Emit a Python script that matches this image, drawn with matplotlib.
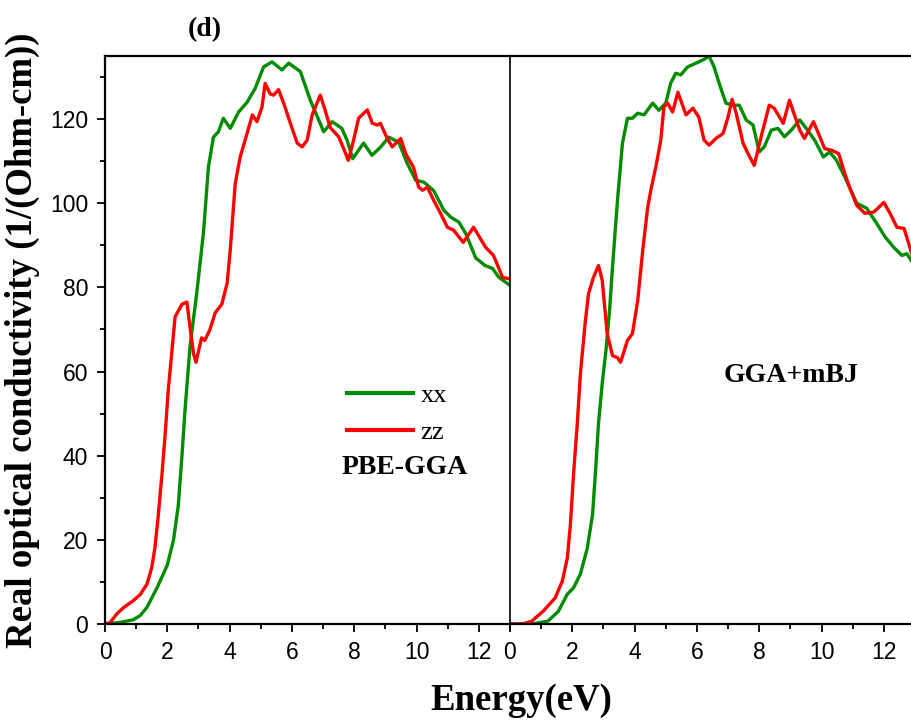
import numpy as np
import matplotlib.pyplot as plt
from matplotlib.ticker import MultipleLocator

# PBE-GGA panel
pbe_xx_e = [0, 0.5, 0.9, 1.13, 1.35, 1.67, 2.0, 2.2, 2.35, 2.47, 2.57, 2.73, 2.95, 3.16, 3.32,
            3.48, 3.64, 3.8, 4.02, 4.29, 4.56, 4.82, 5.09, 5.36, 5.68, 5.9, 6.27, 6.59, 7.02,
            7.29, 7.6, 7.77, 7.95, 8.3, 8.57, 8.84, 9.11, 9.43, 9.7, 9.97, 10.24, 10.55, 10.88,
            11.1, 11.36, 11.58, 11.9, 12.2, 12.44, 12.64, 13.0]
pbe_xx_s = [0, 0.4, 1.0, 2.0, 4.0, 8.6, 14, 20, 28, 40, 51, 66, 79, 93, 108.6,
            115.7, 117, 120.2, 117.8, 121.7, 124, 127.3, 132.4, 133.6, 131.7, 133.3, 131.3, 124.5, 117,
            119.4, 117.8, 115, 110.6, 114.3, 111.4, 113.3, 115.7, 114.5, 109.5, 105.5, 105, 103, 98.3,
            96.7, 95.5, 92.8, 87, 85.2, 84.5, 82.4, 80.5]
pbe_zz_e = [0, 0.16, 0.38, 0.58, 0.9, 1.13, 1.35, 1.5, 1.6, 1.7, 1.83, 1.93, 2.03, 2.15, 2.25,
            2.47, 2.63, 2.73, 2.84, 2.92, 3.1, 3.2, 3.36, 3.54, 3.75, 3.92, 4.02, 4.18, 4.34, 4.56,
            4.73, 4.88, 5.04, 5.14, 5.3, 5.41, 5.57, 5.74, 5.95, 6.17, 6.33, 6.49, 6.65, 6.91, 7.07,
            7.23, 7.5, 7.66, 7.81, 7.98, 8.14, 8.42, 8.58, 8.74, 8.84, 9.06, 9.22, 9.49, 9.65, 9.9,
            10.07, 10.19, 10.35, 10.55, 10.77, 10.99, 11.19, 11.36, 11.5, 11.83, 12.22, 12.47, 12.76, 13.0]
pbe_zz_s = [0, 0.3, 2.4, 3.8, 5.5, 7, 9.5, 13.4, 18, 25, 35.7, 45, 55.5, 65, 73,
            76, 76.5, 70.5, 64.3, 62.2, 68, 67.4, 69.8, 74, 76, 81, 88.8, 104.7, 111, 116.6,
            121, 119.4, 122.9, 128.5, 126, 125.7, 127, 123.7, 119, 114.3, 113.4, 115, 121, 125.7, 122,
            118, 115.8, 113, 110.2, 115, 120.2, 122.2, 119, 118.6, 119, 115.4, 113.4, 115.4, 111.8, 108.6,
            103.8, 103.1, 103.8, 100.7, 97.6, 94.3, 93.6, 92, 90.7, 94.3, 89.5, 87.6, 82.4, 82]

# GGA+mBJ panel
mbj_xx_e = [0, 0.7, 1.22, 1.55, 1.84, 2.04, 2.26, 2.48, 2.65, 2.74, 2.84, 2.97, 3.08, 3.2, 3.29,
            3.45, 3.61, 3.77, 3.93, 4.1, 4.3, 4.58, 4.78, 5.0, 5.16, 5.32, 5.48, 5.7, 5.97, 6.23,
            6.39, 6.55, 6.71, 6.93, 7.16, 7.36, 7.58, 7.8, 8.0, 8.16, 8.39, 8.6, 8.81, 9.03, 9.3,
            9.51, 9.78, 10.06, 10.26, 10.48, 10.75, 11.13, 11.45, 11.77, 12.04, 12.32, 12.58, 12.74, 12.94, 13.1]
mbj_xx_s = [0, 0, 0.7, 3, 7.1, 8.6, 11.9, 18, 26, 35.7, 47.6, 57.9, 65, 75, 84.8,
            100.7, 114.3, 120.2, 120.2, 121.4, 121, 123.8, 122.1, 123.8, 128.6, 130.9, 130.5, 132.4, 133.3, 134.2,
            135, 132.4, 128.6, 123.8, 123.3, 123.3, 119.8, 118.6, 112.2, 113.4, 117.4, 117.8, 115.8, 117.4, 119.8,
            117.8, 115, 111, 112.2, 110.2, 106.2, 100, 98.8, 95.2, 92, 89.5, 87.6, 88, 85.7, 84.5]
mbj_zz_e = [0, 0.4, 0.7, 1.06, 1.45, 1.68, 1.84, 1.94, 2.04, 2.16, 2.26, 2.36, 2.42, 2.52, 2.68,
            2.84, 2.96, 3.12, 3.29, 3.45, 3.55, 3.77, 3.93, 4.1, 4.26, 4.42, 4.52, 4.68, 4.84, 4.94,
            5.06, 5.22, 5.39, 5.48, 5.65, 5.87, 6.06, 6.23, 6.39, 6.61, 6.84, 7.0, 7.13, 7.26, 7.48,
            7.64, 7.84, 8.06, 8.32, 8.48, 8.77, 8.97, 9.13, 9.3, 9.45, 9.74, 9.9, 10.1, 10.32, 10.55,
            10.75, 10.9, 11.13, 11.39, 11.68, 12.0, 12.2, 12.42, 12.65, 12.94, 13.1]
mbj_zz_s = [0, 0, 0.7, 3, 6.2, 10.2, 15.7, 23.8, 35.7, 47.6, 59.5, 67.4, 72, 78.5, 82.4,
            85.2, 81.7, 69, 63.8, 63.3, 62.2, 67.4, 69, 76.9, 88.8, 99, 103.1, 108.6, 115, 122.9,
            123.8, 121.7, 126.4, 124.5, 121, 122.6, 120.5, 115, 113.8, 115.4, 116.6, 120.5, 124.7, 121.4, 114.3,
            111.8, 109, 115.8, 123.3, 122.6, 119, 124.5, 121, 117.4, 115.4, 119.4, 116.6, 113, 112.6, 111.8,
            107, 103.8, 99.5, 97.6, 97.9, 100.2, 97.6, 94.3, 94, 87, 84]

green = '#008c00'
red = '#ff0000'
serif = ['Liberation Serif', 'DejaVu Serif']
sans = ['Liberation Sans', 'DejaVu Sans']

fig = plt.figure(figsize=(9.11, 7.22), dpi=100)
ax1 = fig.add_axes([105/911, 1-624/722, 405/911, 568/722])
ax2 = fig.add_axes([510/911, 1-624/722, 405/911, 568/722])

ax1.plot(pbe_xx_e, pbe_xx_s, color=green, lw=2.4, label='xx')
ax1.plot(pbe_zz_e, pbe_zz_s, color=red, lw=2.4, label='zz')
ax2.plot(mbj_xx_e, mbj_xx_s, color=green, lw=2.4)
ax2.plot(mbj_zz_e, mbj_zz_s, color=red, lw=2.4)

for ax in (ax1, ax2):
    ax.set_xlim(0, 13)
    ax.set_ylim(0, 135)
    ax.xaxis.set_major_locator(MultipleLocator(2))
    ax.xaxis.set_minor_locator(MultipleLocator(1))
    ax.yaxis.set_major_locator(MultipleLocator(20))
    ax.yaxis.set_minor_locator(MultipleLocator(10))
    ax.tick_params(which='major', direction='out', length=6, width=1.3, labelsize=16.5, pad=6)
    ax.tick_params(which='minor', direction='out', length=3.5, width=1.3)
    for lab in ax.get_xticklabels() + ax.get_yticklabels():
        lab.set_family(sans)
    ax.spines['right'].set_visible(False)
    ax.spines['bottom'].set_linewidth(1.6)
    ax.spines['top'].set_linewidth(1.6)

ax1.spines['left'].set_linewidth(1.6)
ax2.spines['left'].set_linewidth(1.2)
ax2.tick_params(axis='y', which='both', left=False, labelleft=False)

ax1.set_ylabel('Real optical conductivity (1/(Ohm-cm))', family=serif, fontweight='bold',
               fontsize=26.5, labelpad=7)
fig.text(521/911, 1-700/722, 'Energy(eV)', family=serif, fontweight='bold', fontsize=26.5,
         ha='center', va='center')
fig.text(205/911, 1-30/722, '(d)', family=serif, fontweight='bold', fontsize=20,
         ha='center', va='center')
fig.text(405/911, 1-467/722, 'PBE-GGA', family=serif, fontweight='bold', fontsize=20,
         ha='center', va='center')
fig.text(791/911, 1-375/722, 'GGA+mBJ', family=serif, fontweight='bold', fontsize=20,
         ha='center', va='center')

leg = ax1.legend(loc='upper left', bbox_to_anchor=(323/911, 1-360/722), bbox_transform=fig.transFigure,
                 frameon=False, prop={'family': serif, 'size': 19}, handlelength=2.5,
                 labelspacing=0.5, handletextpad=0.3)
for h in leg.get_lines():
    h.set_linewidth(3)

fig.savefig('out.png', dpi=100)
